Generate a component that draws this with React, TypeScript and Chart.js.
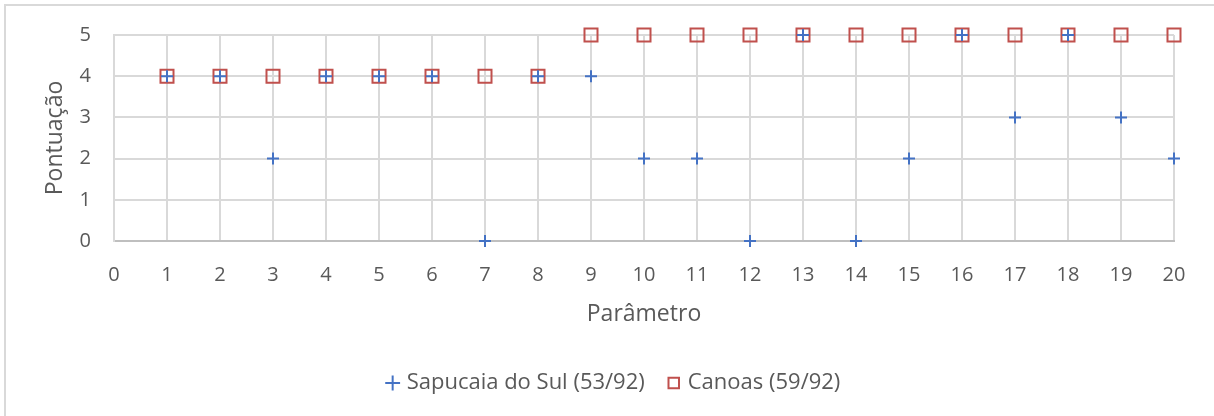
import React, { useEffect, useRef } from "react";
import { Chart, registerables } from "chart.js";

Chart.register(...registerables);

const parametros = [1, 2, 3, 4, 5, 6, 7, 8, 9, 10, 11, 12, 13, 14, 15, 16, 17, 18, 19, 20];
const sapucaia = [4, 4, 2, 4, 4, 4, 0, 4, 4, 2, 2, 0, 5, 0, 2, 5, 3, 5, 3, 2];
const canoas = [4, 4, 4, 4, 4, 4, 4, 4, 5, 5, 5, 5, 5, 5, 5, 5, 5, 5, 5, 5];
const sapucaiaLabel = "Sapucaia do Sul (53/92)";
const canoasLabel = "Canoas (59/92)";
const xTitle = "Parâmetro";
const yTitle = "Pontuação";

const FONT = "'Open Sans', Lato, sans-serif";
const TEXT = "#595959";
const GRID = "#d9d9d9";

const shiftLegend = {
  id: "shiftLegend",
  afterLayout(chart: any) {
    const l = chart.legend;
    if (l) {
      l.left += 28;
      l.right += 28;
    }
  },
};

export default function App() {
  const ref = useRef<HTMLCanvasElement | null>(null);
  useEffect(() => {
    document.body.style.margin = "0";
    if (!ref.current) return;
    const chart = new Chart(ref.current, {
      type: "scatter",
      data: {
        datasets: [
          {
            label: sapucaiaLabel,
            data: parametros.map((x, i) => ({ x, y: sapucaia[i] })),
            pointStyle: "cross",
            pointRadius: 6,
            pointBorderWidth: 2,
            borderColor: "#4472C4",
            backgroundColor: "#4472C4",
            clip: false,
          },
          {
            label: canoasLabel,
            data: parametros.map((x, i) => ({ x, y: canoas[i] })),
            pointStyle: "rect",
            pointRadius: 9.2,
            pointBorderWidth: 2,
            borderColor: "#C0504D",
            backgroundColor: "rgba(255,255,255,0)",
            clip: false,
          },
        ],
      },
      plugins: [shiftLegend],
      options: {
        animation: false,
        responsive: false,
        maintainAspectRatio: false,
        layout: { padding: { left: 0, right: 40, top: 34, bottom: 12 } },
        plugins: {
          tooltip: { enabled: false },
          legend: {
            position: "bottom",
            labels: {
              usePointStyle: true,
              color: TEXT,
              font: { family: FONT, size: 22 },
              padding: 26,
              boxWidth: 6,
              boxHeight: 10.5,
            },
          },
        },
        scales: {
          x: {
            type: "linear",
            min: 0,
            max: 20,
            afterFit: (s: any) => {
              s.height = 105;
            },
            ticks: {
              stepSize: 1,
              color: TEXT,
              padding: 22,
              font: { family: FONT, size: 20 },
            },
            grid: { color: GRID, lineWidth: 2, drawTicks: false },
            border: { color: "#bfbfbf", width: 2 },
            title: {
              display: true,
              text: xTitle,
              color: TEXT,
              font: { family: FONT, size: 23 },
              padding: { top: 0, bottom: 18.2 },
            },
          },
          y: {
            type: "linear",
            min: 0,
            max: 5,
            afterFit: (s: any) => {
              s.width = 114;
            },
            ticks: {
              stepSize: 1,
              color: TEXT,
              padding: 23,
              font: { family: FONT, size: 20 },
            },
            grid: { color: GRID, lineWidth: 2, drawTicks: false },
            border: { color: GRID, width: 2 },
            title: {
              display: true,
              text: yTitle,
              color: TEXT,
              font: { family: FONT, size: 23 },
              padding: { top: 41.7, bottom: 0 },
            },
          },
        },
      },
    });
    return () => chart.destroy();
  }, []);

  return (
    <div style={{ position: "relative", width: 1214, height: 416, overflow: "hidden", background: "#fff" }}>
      <div
        style={{
          position: "absolute",
          left: 4,
          top: 4,
          width: 1300,
          height: 500,
          border: `2px solid ${GRID}`,
          boxSizing: "border-box",
        }}
      />
      <canvas ref={ref} width={1214} height={416} style={{ position: "absolute", left: 0, top: 0 }} />
    </div>
  );
}
